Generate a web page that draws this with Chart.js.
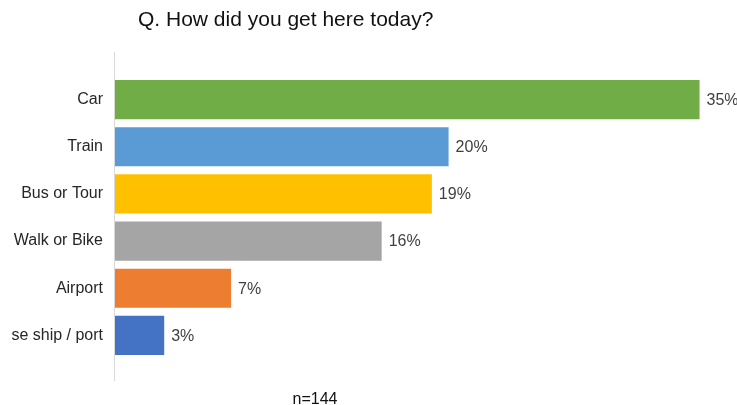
<!DOCTYPE html>
<html>
<head>
<meta charset="utf-8">
<script src="https://cdn.jsdelivr.net/npm/chart.js@4"></script>
<style>
  html, body { margin: 0; padding: 0; background: #fff; }
  #wrap { width: 737px; height: 405px; position: relative; }
</style>
</head>
<body>
<div id="wrap"><canvas id="travelChart"></canvas></div>
<script>
const titleText = 'Q. How did you get here today?'
const sampleNote = 'n=144'

const modes = ['Car', 'Train', 'Bus or Tour', 'Walk or Bike', 'Airport', 'Cruise ship / port']
const shares = [35, 20, 19, 16, 7, 3]
const modeColors = ['#70AD47', '#5B9BD5', '#FFC000', '#A5A5A5', '#ED7D31', '#4472C4']

const FONT = '"Liberation Sans", Arial, sans-serif'

// axis line, value labels, title and sample size
const extras = {
    id: 'extras',
    afterDraw(chart) {
        const { ctx, chartArea } = chart

        // category labels are cut off at the left margin of the plot
        ctx.save()
        ctx.fillStyle = '#fff'
        ctx.fillRect(0, chartArea.top, 11, chartArea.bottom - chartArea.top)
        ctx.restore()
    },
    afterDatasetsDraw(chart) {
        const { ctx, chartArea } = chart

        // vertical axis runs a bit past the bars at both ends
        ctx.save()
        ctx.strokeStyle = '#d9d9d9'
        ctx.lineWidth = 1
        ctx.beginPath()
        ctx.moveTo(chartArea.left + 0.5, chartArea.top - 24)
        ctx.lineTo(chartArea.left + 0.5, chartArea.bottom + 22)
        ctx.stroke()

        // percent at the end of each bar
        ctx.font = '16px ' + FONT
        ctx.fillStyle = '#404040'
        ctx.textAlign = 'left'
        ctx.textBaseline = 'middle'
        chart.getDatasetMeta(0).data.forEach((bar, i) => {
            ctx.fillText(shares[i] + '%', bar.x + 7, bar.y + 1)
        })

        ctx.font = '21px ' + FONT
        ctx.fillStyle = '#111'
        ctx.textBaseline = 'alphabetic'
        ctx.fillText(titleText, 138, 26)

        ctx.font = '16px ' + FONT
        ctx.textAlign = 'center'
        ctx.fillStyle = '#111'
        ctx.fillText(sampleNote, 315, 404)
        ctx.restore()
    }
}

const data = {
    labels: modes,
    datasets: [{
        data: shares,
        backgroundColor: modeColors,
        borderWidth: 0,
        barPercentage: 0.83,
        categoryPercentage: 1
    }]
}

const options = {
    indexAxis: 'y',
    responsive: true,
    maintainAspectRatio: false,
    animation: false,
    layout: { padding: { top: 76, bottom: 46, left: 0, right: 4 } },
    plugins: {
        legend: { display: false },
        tooltip: { enabled: false }
    },
    scales: {
        x: {
            display: false,
            min: 0,
            max: 37
        },
        y: {
            grid: { display: false, drawTicks: false },
            border: { display: false },
            ticks: {
                padding: 11,
                color: '#262626',
                font: { size: 16, family: FONT }
            },
            afterFit: scale => { scale.width = 114 }
        }
    }
}

new Chart('travelChart', { type: 'bar', data, options, plugins: [extras] })
</script>
</body>
</html>
